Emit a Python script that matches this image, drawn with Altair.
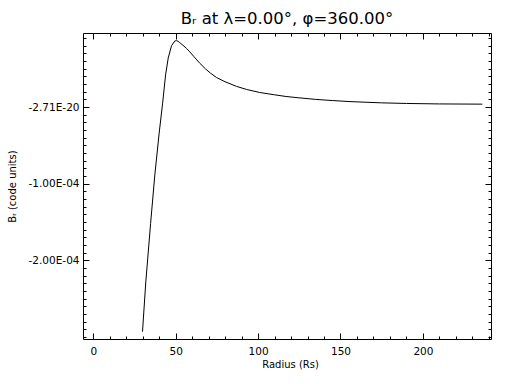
import altair as alt
import pandas as pd

# ---- data ----
radius = [29.9, 31.9, 34.8, 37.4, 40.0, 42.1, 43.9, 45.5, 47.5, 49.5, 50.5, 51.5,
          52.5, 54.5, 56.6, 58.6, 61.0, 64.7, 68.0, 71.0, 74.8, 80.0, 86.9, 93.0,
          101.0, 110.0, 117.0, 125.0, 135.0, 145.0, 157.0, 175.0, 190.0, 210.0, 236.0]
br_e4 = [-2.93, -2.28, -1.52, -0.88, -0.34, 0.05, 0.42, 0.64, 0.80, 0.862, 0.866, 0.858,
         0.84, 0.805, 0.765, 0.72, 0.66, 0.57, 0.50, 0.445, 0.385, 0.33, 0.27, 0.23,
         0.19, 0.16, 0.138, 0.12, 0.10, 0.085, 0.07, 0.055, 0.047, 0.041, 0.038]

x_domain = [-6.2, 241.3]
y_domain = [-3.025e-4, 0.966e-4]
x_major = [0, 50, 100, 150, 200]
x_minor = list(range(0, 241, 10))
y_major = [0.0, -1e-4, -2e-4]
y_major_labels = ["-2.71E-20", "-1.00E-04", "-2.00E-04"]
y_minor = [k * 1e-5 for k in range(-30, 10)]

title_text = "Bᵣ at λ=0.00°, φ=360.00°"
x_title = "Radius (Rs)"
y_title = "Bᵣ (code units)"

FONT = "DejaVu Sans"

df = pd.DataFrame({"r": radius, "b": [v * 1e-4 for v in br_e4]})

xs = alt.Scale(domain=x_domain, nice=False, zero=False)
ys = alt.Scale(domain=y_domain, nice=False, zero=False)

label_expr = ""
for v, lab in zip(y_major, y_major_labels):
    label_expr += f"abs(datum.value - ({v})) < 1e-9 ? '{lab}' : "
label_expr += "''"

base = alt.Chart(df)

line = base.mark_line(color="black", strokeWidth=1).encode(
    x=alt.X("r:Q", scale=xs, axis=alt.Axis(
        orient="bottom", values=x_major, ticks=False, domain=False, grid=False,
        labelPadding=7, labelFont=FONT, labelFontSize=10.5, labelColor="black",
        title=x_title, titleFont=FONT, titleFontSize=10, titleFontWeight="normal",
        titleColor="black", titleX=207, titleY=28, titleBaseline="alphabetic",
        titleAlign="center")),
    y=alt.Y("b:Q", scale=ys, axis=alt.Axis(
        orient="left", values=y_major, labelExpr=label_expr, ticks=False, domain=False,
        grid=False, labelPadding=4, labelFont=FONT, labelFontSize=10.5, labelColor="black",
        title=y_title, titleFont=FONT, titleFontSize=10, titleFontWeight="normal",
        titleColor="black", titleX=-71, titleY=153, titleBaseline="middle",
        titleAlign="center", titleAngle=270)),
)


def tick_layer(x_orient, y_orient, xvals, yvals, size):
    common = dict(labels=False, domain=False, grid=False, title=None,
                  tickSize=size, offset=-size, tickColor="black", tickWidth=1)
    return base.mark_line(opacity=0).encode(
        x=alt.X("r:Q", scale=xs, axis=alt.Axis(orient=x_orient, values=xvals, **common)),
        y=alt.Y("b:Q", scale=ys, axis=alt.Axis(orient=y_orient, values=yvals, **common)),
    )


layers = [
    line,
    tick_layer("bottom", "left", x_major, y_major, 6),
    tick_layer("bottom", "left", x_minor, y_minor, 3),
    tick_layer("top", "right", x_major, y_major, 6),
    tick_layer("top", "right", x_minor, y_minor, 3),
]

chart = alt.layer(*layers).resolve_axis(x="independent", y="independent").properties(
    width=408,
    height=306,
    autosize=alt.AutoSizeParams(type="none"),
    padding={"left": 83, "top": 33, "right": 21, "bottom": 45},
    background="white",
    title=alt.TitleParams(text=title_text, font=FONT, fontSize=16.5, fontWeight="normal",
                          color="black", anchor="middle", offset=5),
).configure_view(stroke="black", strokeWidth=1)

chart.save("out.html", embed_options={"renderer": "svg", "actions": False})
